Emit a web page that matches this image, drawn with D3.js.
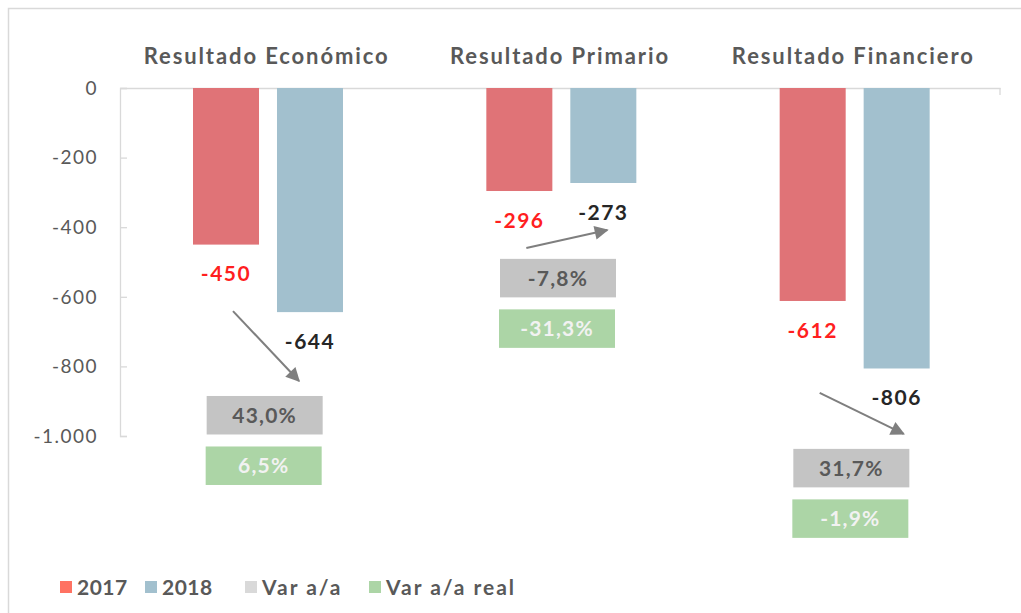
<!DOCTYPE html>
<html>
<head>
<meta charset="utf-8">
<script src="https://cdn.jsdelivr.net/npm/d3@7"></script>
<style>
  body { margin: 0; background: #fff; }
  svg { display: block; font-family: Lato, "Open Sans", sans-serif; }
</style>
</head>
<body>
<div id="content"></div>
<script>
// data
var categories = ["Resultado Económico", "Resultado Primario", "Resultado Financiero"];
var years = ["2017", "2018"];
var values2017 = [-450, -296, -612];
var values2018 = [-644, -273, -806];
var varNominal = ["43,0%", "-7,8%", "31,7%"];
var varReal = ["6,5%", "-31,3%", "-1,9%"];
var yTicks = [0, -200, -400, -600, -800, -1000];
// annotation anchors, in chart units (where the arrows and boxes sit)
var arrowFrom = [-641, -460, -876];
var arrowTo = [-842, -408, -994];
var boxAt = [-885, -491, -1037];
var legendItems = ["2017", "2018", "Var a/a", "Var a/a real"];

var barColor = {"2017": "#e07377", "2018": "#a2c0ce"};
var legendColor = ["#ff7262", "#a2c0ce", "#d9d9d9", "#acd5a6"];

var svg = d3.select('#content')
    .append('svg')
    .attr('width', 1021).attr('height', 613);

// outer frame
svg.append("path")
    .attr("d", "M8.5,613 V8.5 H1021")
    .attr("fill", "none")
    .attr("stroke", "#d9d9d9")
    .attr("stroke-width", 1.5);

var y = d3.scaleLinear().domain([0, -1000]).range([88, 436]);
var x0 = d3.scaleBand().domain(categories).range([120, 1000]);
var x1 = d3.scaleBand().domain(years).range([73, 223]).paddingInner(0.214);

// y axis
var yAxis = svg.append("g")
    .attr("transform", "translate(120,0)")
    .call(d3.axisRight(y).tickValues(yTicks).tickSize(7).tickFormat(""));
yAxis.selectAll("path,line").attr("stroke", "#d9d9d9").attr("stroke-width", 1.3);

svg.selectAll(".ylab")
    .data(yTicks)
    .enter().append("text")
    .attr("class", "ylab")
    .attr("x", 98)
    .attr("y", function(d) { return y(d); })
    .attr("dy", "0.36em")
    .attr("text-anchor", "end")
    .attr("fill", "#595959")
    .style("font-size", "19px")
    .style("letter-spacing", "1.5px")
    .text(function(d) { return d3.format(",")(d).replace(/,/g, ".").replace("−", "-"); });

// x axis along zero
var xAxis = svg.append("g")
    .attr("transform", "translate(0," + y(0) + ")")
    .call(d3.axisBottom(x0).tickSize(0).tickFormat(""));
xAxis.selectAll("path").attr("stroke", "#d9d9d9").attr("stroke-width", 1.3);
xAxis.append("line")
    .attr("x1", 1000).attr("x2", 1000).attr("y1", 0).attr("y2", 7)
    .attr("stroke", "#d9d9d9").attr("stroke-width", 1.3);

// category titles
svg.selectAll(".cat")
    .data(categories)
    .enter().append("text")
    .attr("class", "cat")
    .attr("x", function(d) { return x0(d) + x0.bandwidth() / 2; })
    .attr("y", 64)
    .attr("text-anchor", "middle")
    .attr("fill", "#595959")
    .style("font-size", "22px")
    .style("font-weight", "bold")
    .style("letter-spacing", "1.9px")
    .text(function(d) { return d; });

var rows = categories.map(function(c, i) {
    return {cat: c, i: i, vals: [{year: "2017", v: values2017[i]}, {year: "2018", v: values2018[i]}]};
});

var groups = svg.selectAll(".grp")
    .data(rows)
    .enter().append("g")
    .attr("class", "grp")
    .attr("transform", function(d) { return "translate(" + x0(d.cat) + ",0)"; });

groups.selectAll("rect")
    .data(function(d) { return d.vals; })
    .enter().append("rect")
    .attr("x", function(d) { return x1(d.year); })
    .attr("y", y(0))
    .attr("width", x1.bandwidth())
    .attr("height", function(d) { return y(d.v) - y(0); })
    .attr("fill", function(d) { return barColor[d.year]; });

groups.selectAll(".val")
    .data(function(d) { return d.vals; })
    .enter().append("text")
    .attr("class", "val")
    .attr("x", function(d) { return x1(d.year) + x1.bandwidth() / 2; })
    .attr("y", function(d) { return y(d.v) + 29; })
    .attr("dy", "0.36em")
    .attr("text-anchor", "middle")
    .attr("fill", function(d) { return d.year == "2017" ? "#ff1f1f" : "#262626"; })
    .style("font-size", "21px")
    .style("font-weight", "bold")
    .style("letter-spacing", "1.5px")
    .text(function(d) { return d.v; });

// arrows
svg.append("defs").append("marker")
    .attr("id", "head")
    .attr("viewBox", "0 0 10 10")
    .attr("refX", 9).attr("refY", 5)
    .attr("markerWidth", 8).attr("markerHeight", 7)
    .attr("markerUnits", "strokeWidth")
    .attr("orient", "auto")
    .append("path")
    .attr("d", "M0,0 L10,5 L0,10 z")
    .attr("fill", "#7f7f7f");

var arrowDx = [-11, 4, 7];

groups.append("line")
    .attr("x1", function(d) { return x1("2017") + x1.bandwidth() / 2 + 7; })
    .attr("y1", function(d) { return y(arrowFrom[d.i]); })
    .attr("x2", function(d) { return x1("2018") + x1.bandwidth() / 2 + arrowDx[d.i]; })
    .attr("y2", function(d) { return y(arrowTo[d.i]); })
    .attr("stroke", "#7f7f7f")
    .attr("stroke-width", 2)
    .attr("marker-end", "url(#head)");

// variation boxes
var boxW = 116, boxH = 38.5, gap = 12;

groups.append("rect")
    .attr("x", x0.bandwidth() / 2 - 60)
    .attr("y", function(d) { return y(boxAt[d.i]); })
    .attr("width", boxW).attr("height", boxH)
    .attr("fill", "#c4c4c4");

groups.append("text")
    .attr("x", x0.bandwidth() / 2 - 2)
    .attr("y", function(d) { return y(boxAt[d.i]) + boxH / 2; })
    .attr("dy", "0.36em")
    .attr("text-anchor", "middle")
    .attr("fill", "#595959")
    .style("font-size", "21px")
    .style("font-weight", "bold")
    .style("letter-spacing", "1.2px")
    .text(function(d) { return varNominal[d.i]; });

groups.append("rect")
    .attr("x", x0.bandwidth() / 2 - 61)
    .attr("y", function(d) { return y(boxAt[d.i]) + boxH + gap; })
    .attr("width", boxW).attr("height", boxH)
    .attr("fill", "#acd5a6");

groups.append("text")
    .attr("x", x0.bandwidth() / 2 - 3)
    .attr("y", function(d) { return y(boxAt[d.i]) + boxH * 1.5 + gap; })
    .attr("dy", "0.36em")
    .attr("text-anchor", "middle")
    .attr("fill", "#f2f2f2")
    .style("font-size", "21px")
    .style("font-weight", "bold")
    .style("letter-spacing", "1.2px")
    .text(function(d) { return varReal[d.i]; });

// legend
var legendX = [60, 145, 245, 369];
var legend = svg.selectAll(".leg")
    .data(legendItems)
    .enter().append("g")
    .attr("class", "leg")
    .attr("transform", function(d, i) { return "translate(" + legendX[i] + ",581)"; });

legend.append("rect")
    .attr("width", 12).attr("height", 12)
    .attr("fill", function(d, i) { return legendColor[i]; });

legend.append("text")
    .attr("x", 17)
    .attr("y", 6)
    .attr("dy", "0.36em")
    .attr("fill", "#595959")
    .style("font-size", "21px")
    .style("font-weight", "bold")
    .style("letter-spacing", function(d) { return d.indexOf("Var") == 0 ? "2px" : "0.5px"; })
    .text(function(d) { return d; });
</script>
</body>
</html>
